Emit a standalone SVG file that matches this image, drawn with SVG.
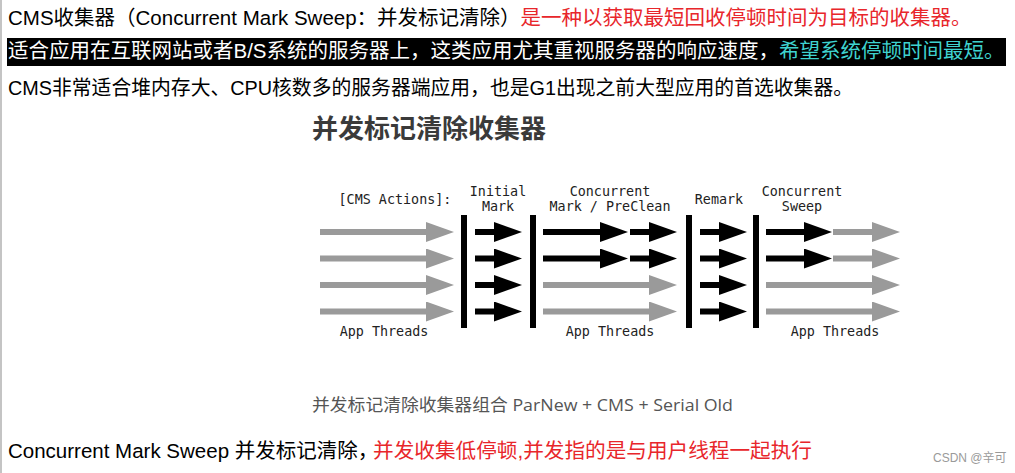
<svg xmlns="http://www.w3.org/2000/svg" width="1015" height="473" viewBox="0 0 1015 473">
<style>
.body{font-family:"Liberation Sans","Noto Sans CJK SC",sans-serif;font-size:20.5px;fill:#000}
.red{fill:#e8262b}
.cyan{fill:#3fd3d0}
.white{fill:#fff}
.title{font-family:"Noto Sans CJK SC",sans-serif;font-weight:bold;font-size:26px;fill:#3a3a3a}
.mono{font-family:"DejaVu Sans Mono","Liberation Mono",monospace;font-size:13.4px;fill:#222;text-anchor:middle}
.cap{font-family:"Open Sans","Noto Sans CJK SC",sans-serif;font-size:17px;fill:#555}
.wm{font-family:"Liberation Sans","Noto Sans CJK SC",sans-serif;font-size:12px;fill:#9a9a9a}
.bar{fill:#000}
.g{stroke:#9a9a9a;stroke-width:6;marker-end:url(#hg)}
.k{stroke:#000;stroke-width:6;marker-end:url(#hk)}
</style>
<defs>
<marker id="hg" markerUnits="userSpaceOnUse" viewBox="0 0 28 20" markerWidth="28" markerHeight="20" refX="1" refY="10" orient="auto"><path d="M0,0 L28,10 L0,20 z" fill="#9a9a9a"/></marker>
<marker id="hk" markerUnits="userSpaceOnUse" viewBox="0 0 28 20" markerWidth="28" markerHeight="20" refX="1" refY="10" orient="auto"><path d="M0,0 L28,10 L0,20 z" fill="#000"/></marker>
</defs>
<rect x="0" y="0" width="1015" height="473" fill="#fff"/>
<rect x="0" y="0" width="2" height="473" fill="#c4c4c4"/>

<g id="text-lines">
<text class="body" x="8" y="25">CMS收集器（Concurrent Mark Sweep：并发标记清除）<tspan class="red">是一种以获取最短回收停顿时间为目标的收集器。</tspan></text>
<rect x="7" y="38" width="999" height="28" fill="#000"/>
<text class="body white" x="8" y="58">适合应用在互联网站或者B/S系统的服务器上，这类应用尤其重视服务器的响应速度，<tspan class="cyan">希望系统停顿时间最短。</tspan></text>
<text class="body" x="8" y="95" textLength="845" lengthAdjust="spacingAndGlyphs">CMS非常适合堆内存大、CPU核数多的服务器端应用，也是G1出现之前大型应用的首选收集器。</text>
</g>

<g id="title"><text class="title" x="312" y="138">并发标记清除收集器</text></g>

<g id="phase-labels">
<g id="cms-actions"><text class="mono" x="395" y="204">[CMS Actions]:</text></g>
<g id="initial-mark"><text class="mono" x="498" y="196">Initial</text><text class="mono" x="498" y="211">Mark</text></g>
<g id="concurrent-mark"><text class="mono" x="610" y="196">Concurrent</text><text class="mono" x="610" y="211">Mark / PreClean</text></g>
<g id="remark"><text class="mono" x="719" y="204">Remark</text></g>
<g id="concurrent-sweep"><text class="mono" x="802" y="196">Concurrent</text><text class="mono" x="802" y="211">Sweep</text></g>
<g id="app-threads"><text class="mono" x="384" y="336">App Threads</text><text class="mono" x="610" y="336">App Threads</text><text class="mono" x="835" y="336">App Threads</text></g>
</g>

<g id="bars">
<rect class="bar" x="461" y="215" width="6" height="113"/>
<rect class="bar" x="530" y="215" width="6" height="113"/>
<rect class="bar" x="686" y="215" width="6" height="113"/>
<rect class="bar" x="753" y="215" width="6" height="113"/>
</g>

<g id="connectors">
<line class="g" x1="320" y1="232" x2="427" y2="232"/>
<line class="g" x1="320" y1="258.5" x2="427" y2="258.5"/>
<line class="g" x1="320" y1="285" x2="427" y2="285"/>
<line class="g" x1="320" y1="311.5" x2="427" y2="311.5"/>

<line class="k" x1="475" y1="232" x2="495" y2="232"/>
<line class="k" x1="475" y1="258.5" x2="495" y2="258.5"/>
<line class="k" x1="475" y1="285" x2="495" y2="285"/>
<line class="k" x1="475" y1="311.5" x2="495" y2="311.5"/>

<line class="k" x1="543" y1="232" x2="601" y2="232"/>
<line class="k" x1="630" y1="232" x2="650" y2="232"/>
<line class="k" x1="543" y1="258.5" x2="601" y2="258.5"/>
<line class="k" x1="630" y1="258.5" x2="650" y2="258.5"/>
<line class="g" x1="543" y1="285" x2="650" y2="285"/>
<line class="g" x1="543" y1="311.5" x2="650" y2="311.5"/>

<line class="k" x1="700" y1="232" x2="720" y2="232"/>
<line class="k" x1="700" y1="258.5" x2="720" y2="258.5"/>
<line class="k" x1="700" y1="285" x2="720" y2="285"/>
<line class="k" x1="700" y1="311.5" x2="720" y2="311.5"/>

<line class="k" x1="766" y1="232" x2="805" y2="232"/>
<line class="g" x1="833" y1="232" x2="873" y2="232"/>
<line class="k" x1="766" y1="258.5" x2="805" y2="258.5"/>
<line class="g" x1="833" y1="258.5" x2="873" y2="258.5"/>
<line class="g" x1="766" y1="285" x2="873" y2="285"/>
<line class="g" x1="766" y1="311.5" x2="873" y2="311.5"/>
</g>

<g id="caption"><text class="cap" x="312" y="411" textLength="421" lengthAdjust="spacingAndGlyphs">并发标记清除收集器组合 ParNew + CMS + Serial Old</text></g>

<g id="bottom-line">
<text class="body" x="8" y="458">Concurrent Mark Sweep 并发标记清除，</text>
<text class="body red" x="373" y="458" textLength="439" lengthAdjust="spacingAndGlyphs">并发收集低停顿,并发指的是与用户线程一起执行</text>
</g>
<g id="watermark"><text class="wm" x="933" y="462">CSDN @辛可</text></g>
</svg>
